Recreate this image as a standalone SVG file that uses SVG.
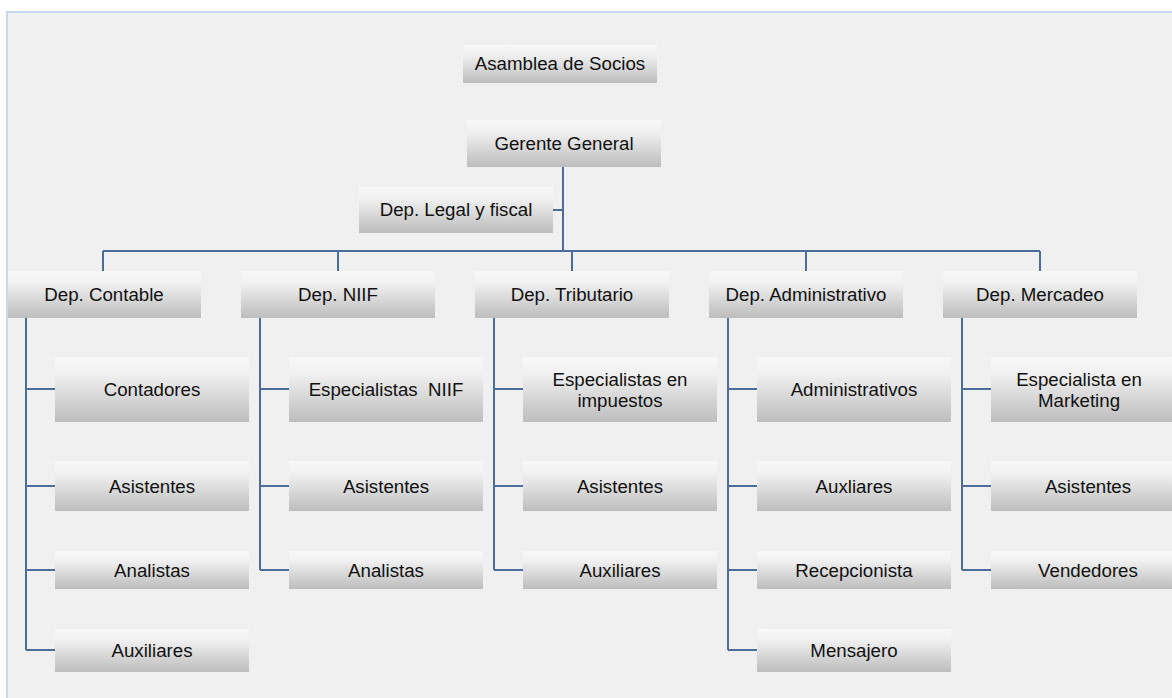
<svg xmlns="http://www.w3.org/2000/svg" width="1172" height="698" viewBox="0 0 1172 698">
<defs>
<linearGradient id="g" x1="0" y1="0" x2="0" y2="1">
<stop offset="0" stop-color="#f8f8f8"/>
<stop offset="0.25" stop-color="#f1f1f1"/>
<stop offset="1" stop-color="#bdbdbd"/>
</linearGradient>
<style>
.b{fill:url(#g);}
.t{font-family:"Liberation Sans",Arial,sans-serif;font-size:18.7px;fill:#111;text-anchor:middle;}
.c{fill:none;stroke:#4a6d9c;stroke-width:2;}
</style>
</defs>
<rect x="0" y="0" width="1172" height="698" fill="#ffffff"/>
<rect x="7" y="12" width="1200" height="720" fill="#f0f0f0" stroke="#c6d9f0" stroke-width="2"/>
<g id="connectors">
<path class="c" d="M563 167V251M553 210H563M103 251H1040M103 251V271M338 251V271M572 251V271M806 251V271M1040 251V271"/>
<path class="c" d="M26 318V650M26 389H55M26 486H55M26 570H55M26 650H55"/>
<path class="c" d="M260 318V570M260 389H289M260 486H289M260 570H289"/>
<path class="c" d="M494 318V570M494 389H523M494 486H523M494 570H523"/>
<path class="c" d="M728 318V650M728 389H757M728 486H757M728 570H757M728 650H757"/>
<path class="c" d="M962 318V570M962 389H991M962 486H991M962 570H991"/>
</g>
<g id="asamblea"><rect class="b" x="463" y="45" width="194" height="38"/><text class="t" x="560" y="70">Asamblea de Socios</text></g>
<g id="gerente"><rect class="b" x="467" y="120" width="194" height="47"/><text class="t" x="564" y="150">Gerente General</text></g>
<g id="legal"><rect class="b" x="359" y="187" width="194" height="46"/><text class="t" x="456" y="216">Dep. Legal y fiscal</text></g>
<g id="dep-contable"><rect class="b" x="8" y="271" width="193" height="47"/><text class="t" x="104" y="301">Dep. Contable</text></g>
<g id="dep-niif"><rect class="b" x="241" y="271" width="194" height="47"/><text class="t" x="338" y="301">Dep. NIIF</text></g>
<g id="dep-tributario"><rect class="b" x="475" y="271" width="194" height="47"/><text class="t" x="572" y="301">Dep. Tributario</text></g>
<g id="dep-administrativo"><rect class="b" x="709" y="271" width="194" height="47"/><text class="t" x="806" y="301">Dep. Administrativo</text></g>
<g id="dep-mercadeo"><rect class="b" x="943" y="271" width="194" height="47"/><text class="t" x="1040" y="301">Dep. Mercadeo</text></g>
<g id="contadores"><rect class="b" x="55" y="357" width="194" height="65"/><text class="t" x="152" y="396">Contadores</text></g>
<g id="contable-asistentes"><rect class="b" x="55" y="461" width="194" height="50"/><text class="t" x="152" y="493">Asistentes</text></g>
<g id="contable-analistas"><rect class="b" x="55" y="551" width="194" height="38"/><text class="t" x="152" y="577">Analistas</text></g>
<g id="contable-auxiliares"><rect class="b" x="55" y="629" width="194" height="43"/><text class="t" x="152" y="657">Auxiliares</text></g>
<g id="especialistas-niif"><rect class="b" x="289" y="357" width="194" height="65"/><text class="t" x="386" y="396" xml:space="preserve">Especialistas  NIIF</text></g>
<g id="niif-asistentes"><rect class="b" x="289" y="461" width="194" height="50"/><text class="t" x="386" y="493">Asistentes</text></g>
<g id="niif-analistas"><rect class="b" x="289" y="551" width="194" height="38"/><text class="t" x="386" y="577">Analistas</text></g>
<g id="especialistas-impuestos"><rect class="b" x="523" y="357" width="194" height="65"/><text class="t" x="620" y="386">Especialistas en</text><text class="t" x="620" y="407">impuestos</text></g>
<g id="trib-asistentes"><rect class="b" x="523" y="461" width="194" height="50"/><text class="t" x="620" y="493">Asistentes</text></g>
<g id="trib-auxiliares"><rect class="b" x="523" y="551" width="194" height="38"/><text class="t" x="620" y="577">Auxiliares</text></g>
<g id="administrativos"><rect class="b" x="757" y="357" width="194" height="65"/><text class="t" x="854" y="396">Administrativos</text></g>
<g id="auxliares"><rect class="b" x="757" y="461" width="194" height="50"/><text class="t" x="854" y="493">Auxliares</text></g>
<g id="recepcionista"><rect class="b" x="757" y="551" width="194" height="38"/><text class="t" x="854" y="577">Recepcionista</text></g>
<g id="mensajero"><rect class="b" x="757" y="629" width="194" height="43"/><text class="t" x="854" y="657">Mensajero</text></g>
<g id="especialista-marketing"><rect class="b" x="991" y="357" width="194" height="65"/><text class="t" x="1079" y="386">Especialista en</text><text class="t" x="1079" y="407">Marketing</text></g>
<g id="merc-asistentes"><rect class="b" x="991" y="461" width="194" height="50"/><text class="t" x="1088" y="493">Asistentes</text></g>
<g id="vendedores"><rect class="b" x="991" y="551" width="194" height="38"/><text class="t" x="1088" y="577">Vendedores</text></g>
</svg>
